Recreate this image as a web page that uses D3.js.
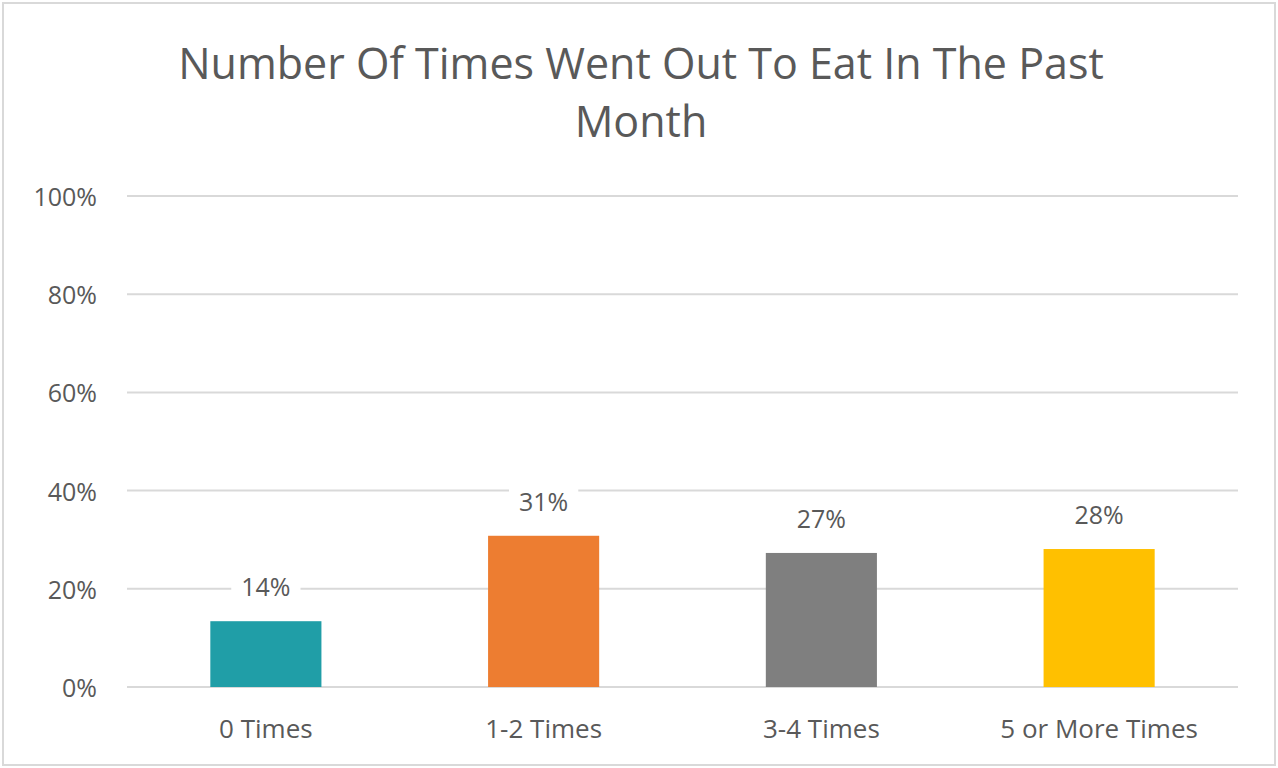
<!DOCTYPE html>
<html><head><meta charset="utf-8">
<script src="https://cdn.jsdelivr.net/npm/d3@7"></script>
<style>body{margin:0;background:#fff;} text{font-family:"Open Sans",sans-serif;fill:#595959;}</style>
</head><body>
<svg id="c" width="1278" height="768"></svg>
<script>
const categories = ["0 Times","1-2 Times","3-4 Times","5 or More Times"];
const values = [0.134, 0.308, 0.273, 0.281];
const labels = ["14%","31%","27%","28%"];
const colors = ["#209ea7","#ed7d31","#7f7f7f","#ffc000"];
const yTicks = [0,0.2,0.4,0.6,0.8,1.0];
const titleLines = ["Number Of Times Went Out To Eat In The Past","Month"];

const svg = d3.select("#c");
svg.append("rect").attr("x",3).attr("y",3).attr("width",1272).attr("height",762)
  .attr("fill","#fff").attr("stroke","#d9d9d9").attr("stroke-width",2);

const x = d3.scaleBand().domain(categories).range([127,1238]).paddingInner(0.6).paddingOuter(0.3);
const y = d3.scaleLinear().domain([0,1]).range([687,196]);

// gridlines
svg.append("g").selectAll("line").data(yTicks).join("line")
  .attr("x1",127).attr("x2",1238).attr("y1",d=>y(d)).attr("y2",d=>y(d))
  .attr("stroke","#d9d9d9").attr("stroke-width",2);

// y labels
svg.append("g").selectAll("text").data(yTicks).join("text")
  .attr("x",97).attr("y",d=>y(d)+10).attr("text-anchor","end")
  .attr("font-size",25).text(d=>d3.format(".0%")(d));

// bars
svg.append("g").selectAll("rect").data(values).join("rect")
  .attr("x",(d,i)=>x(categories[i])).attr("width",x.bandwidth())
  .attr("y",d=>y(d)).attr("height",d=>y(0)-y(d))
  .attr("fill",(d,i)=>colors[i]);

// data labels with white background
const lg = svg.append("g");
values.forEach((v,i)=>{
  const cx = x(categories[i])+x.bandwidth()/2;
  const t = lg.append("text").attr("x",cx).attr("y",y(v)-25).attr("text-anchor","middle")
    .attr("font-size",25).text(labels[i]);
  const bb = t.node().getBBox();
  lg.insert("rect","text").attr("x",bb.x-10).attr("y",bb.y-2).attr("width",bb.width+20).attr("height",bb.height+4).attr("fill","#fff");
});

// category labels
svg.append("g").selectAll("text").data(categories).join("text")
  .attr("x",d=>x(d)+x.bandwidth()/2).attr("y",738).attr("text-anchor","middle")
  .attr("font-size",26).text(d=>d);

// title
svg.append("g").selectAll("text").data(titleLines).join("text")
  .attr("x",641).attr("y",(d,i)=>79+i*58).attr("text-anchor","middle")
  .attr("font-size",43).text(d=>d);
</script>
</body></html>
